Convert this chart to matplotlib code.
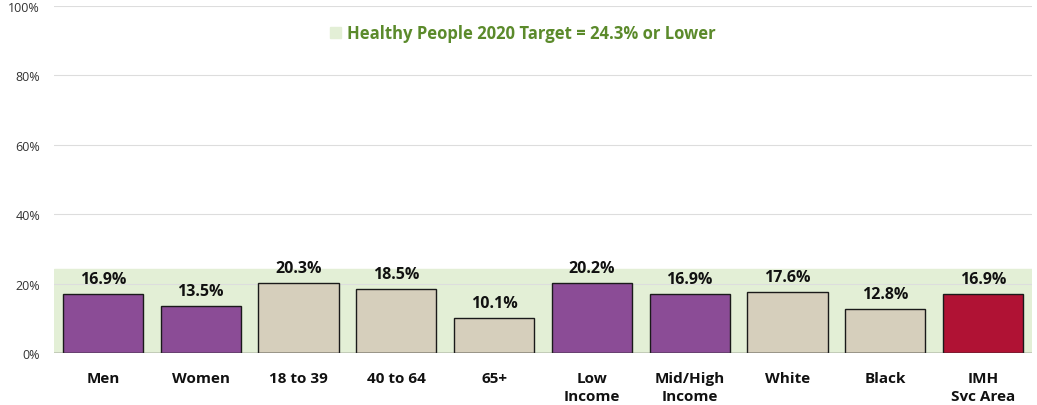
import numpy as np
import matplotlib.pyplot as plt
from matplotlib.ticker import FuncFormatter

plt.rcParams['font.family'] = ['Open Sans', 'DejaVu Sans']

categories = ['Men', 'Women', '18 to 39', '40 to 64', '65+', 'Low\nIncome',
              'Mid/High\nIncome', 'White', 'Black', 'IMH\nSvc Area']
values = [16.9, 13.5, 20.3, 18.5, 10.1, 20.2, 16.9, 17.6, 12.8, 16.9]
groups = ['sex', 'sex', 'age', 'age', 'age', 'income', 'income', 'race', 'race', 'total']
target = 24.3

group_colors = {'sex': '#8B4C96', 'age': '#D6CFBC', 'income': '#8B4C96',
                'race': '#D6CFBC', 'total': '#B01234'}
colors = [group_colors[g] for g in groups]

fig = plt.figure(figsize=(10.37, 4.06), dpi=100)
ax = fig.add_axes([54 / 1037, 1 - 354 / 406, (1032 - 54) / 1037, (354 - 7) / 406])

x = np.arange(len(categories))
ax.set_xlim(-0.5, len(categories) - 0.5)
ax.set_ylim(0, 100)

# target band from 0 up to the Healthy People goal
ax.axhspan(0, target, color='#E3EFD6', zorder=0)

for y in range(20, 101, 20):
    ax.axhline(y, color='#DDDDDD', lw=0.8, zorder=0.5)

bars = ax.bar(x, values, width=0.82, color=colors, edgecolor='#1A1A1A', lw=1.0, zorder=2)
ax.axhline(0, color='#404040', lw=1.0, zorder=3)

for xi, v in zip(x, values):
    ax.text(xi, v + 2.0, f'{v:.1f}%', ha='center', va='bottom', fontsize=11.5,
            fontweight='bold', color='#111111')

ax.set_xticks(x)
ax.set_xticklabels(categories, fontsize=11, fontweight='bold', color='#111111',
                   linespacing=1.35, va='top')
ax.set_yticks(range(0, 101, 20))
ax.yaxis.set_major_formatter(FuncFormatter(lambda v, p: f'{v:.0f}%'))
ax.tick_params(axis='y', labelsize=9, length=0, pad=10, colors='#333333')
ax.tick_params(axis='x', length=0, pad=13)
for s in ax.spines.values():
    s.set_visible(False)

# legend entry for the target band
fig.patches.append(plt.Rectangle((330 / 1037, 1 - 39 / 406), 11 / 1037, 11 / 406,
                                 transform=fig.transFigure, color='#E3EFD6'))
fig.text(347 / 1037, 1 - 34 / 406, 'Healthy People 2020 Target = 24.3% or Lower',
         ha='left', va='center', fontsize=12, fontweight='bold', color='#5B8A2B')

fig.savefig('out.png', dpi=100)
